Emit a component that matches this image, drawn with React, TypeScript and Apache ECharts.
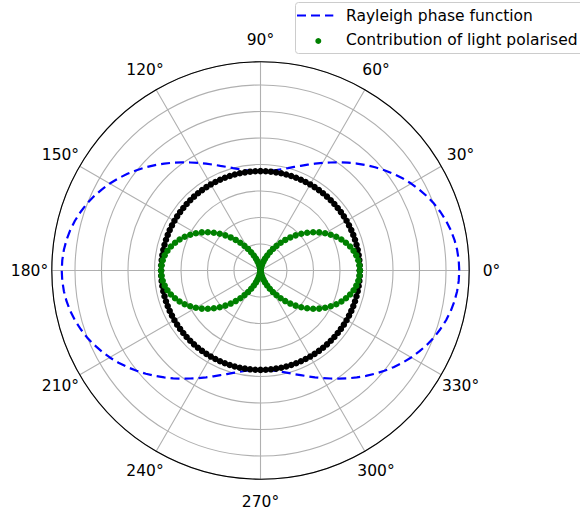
import { useEffect, useRef } from "react";
import * as echarts from "echarts";

// Sample angles (degrees) of the plotted points
const ANGLES = [
  0, 3, 6, 9, 12, 15, 18, 21, 24, 27, 30, 33, 36, 39, 42, 45, 48, 51, 54, 57,
  60, 63, 66, 69, 72, 75, 78, 81, 84, 87, 90, 93, 96, 99, 102, 105, 108, 111, 114, 117,
  120, 123, 126, 129, 132, 135, 138, 141, 144, 147, 150, 153, 156, 159, 162, 165, 168, 171, 174, 177,
  180, 183, 186, 189, 192, 195, 198, 201, 204, 207, 210, 213, 216, 219, 222, 225, 228, 231, 234, 237,
  240, 243, 246, 249, 252, 255, 258, 261, 264, 267, 270, 273, 276, 279, 282, 285, 288, 291, 294, 297,
  300, 303, 306, 309, 312, 315, 318, 321, 324, 327, 330, 333, 336, 339, 342, 345, 348, 351, 354, 357,
  360,
];

// Rayleigh phase function (blue dashed)
const BLUE_R = [
  1.5, 1.498, 1.492, 1.482, 1.468, 1.45, 1.428, 1.404, 1.376, 1.345,
  1.313, 1.278, 1.241, 1.203, 1.164, 1.125, 1.086, 1.047, 1.009, 0.972,
  0.938, 0.905, 0.874, 0.846, 0.822, 0.8, 0.782, 0.768, 0.758, 0.752,
  0.75, 0.752, 0.758, 0.768, 0.782, 0.8, 0.822, 0.846, 0.874, 0.905,
  0.938, 0.972, 1.009, 1.047, 1.086, 1.125, 1.164, 1.203, 1.241, 1.278,
  1.313, 1.345, 1.376, 1.404, 1.428, 1.45, 1.468, 1.482, 1.492, 1.498,
  1.5, 1.498, 1.492, 1.482, 1.468, 1.45, 1.428, 1.404, 1.376, 1.345,
  1.313, 1.278, 1.241, 1.203, 1.164, 1.125, 1.086, 1.047, 1.009, 0.972,
  0.938, 0.905, 0.874, 0.846, 0.822, 0.8, 0.782, 0.768, 0.758, 0.752,
  0.75, 0.752, 0.758, 0.768, 0.782, 0.8, 0.822, 0.846, 0.874, 0.905,
  0.938, 0.972, 1.009, 1.047, 1.086, 1.125, 1.164, 1.203, 1.241, 1.278,
  1.313, 1.345, 1.376, 1.404, 1.428, 1.45, 1.468, 1.482, 1.492, 1.498,
  1.5,
];

// Contribution of light polarised (green dots)
const GREEN_R = [
  0.75, 0.748, 0.742, 0.732, 0.718, 0.7, 0.678, 0.654, 0.626, 0.595,
  0.563, 0.528, 0.491, 0.453, 0.414, 0.375, 0.336, 0.297, 0.259, 0.222,
  0.188, 0.155, 0.124, 0.096, 0.072, 0.05, 0.032, 0.018, 0.008, 0.002,
  0, 0.002, 0.008, 0.018, 0.032, 0.05, 0.072, 0.096, 0.124, 0.155,
  0.188, 0.222, 0.259, 0.297, 0.336, 0.375, 0.414, 0.453, 0.491, 0.528,
  0.563, 0.595, 0.626, 0.654, 0.678, 0.7, 0.718, 0.732, 0.742, 0.748,
  0.75, 0.748, 0.742, 0.732, 0.718, 0.7, 0.678, 0.654, 0.626, 0.595,
  0.563, 0.528, 0.491, 0.453, 0.414, 0.375, 0.336, 0.297, 0.259, 0.222,
  0.188, 0.155, 0.124, 0.096, 0.072, 0.05, 0.032, 0.018, 0.008, 0.002,
  0, 0.002, 0.008, 0.018, 0.032, 0.05, 0.072, 0.096, 0.124, 0.155,
  0.188, 0.222, 0.259, 0.297, 0.336, 0.375, 0.414, 0.453, 0.491, 0.528,
  0.563, 0.595, 0.626, 0.654, 0.678, 0.7, 0.718, 0.732, 0.742, 0.748,
  0.75,
];

// Other (unpolarised) contribution (black dots)
const BLACK_R = [
  0.75, 0.75, 0.75, 0.75, 0.75, 0.75, 0.75, 0.75, 0.75, 0.75,
  0.75, 0.75, 0.75, 0.75, 0.75, 0.75, 0.75, 0.75, 0.75, 0.75,
  0.75, 0.75, 0.75, 0.75, 0.75, 0.75, 0.75, 0.75, 0.75, 0.75,
  0.75, 0.75, 0.75, 0.75, 0.75, 0.75, 0.75, 0.75, 0.75, 0.75,
  0.75, 0.75, 0.75, 0.75, 0.75, 0.75, 0.75, 0.75, 0.75, 0.75,
  0.75, 0.75, 0.75, 0.75, 0.75, 0.75, 0.75, 0.75, 0.75, 0.75,
  0.75, 0.75, 0.75, 0.75, 0.75, 0.75, 0.75, 0.75, 0.75, 0.75,
  0.75, 0.75, 0.75, 0.75, 0.75, 0.75, 0.75, 0.75, 0.75, 0.75,
  0.75, 0.75, 0.75, 0.75, 0.75, 0.75, 0.75, 0.75, 0.75, 0.75,
  0.75, 0.75, 0.75, 0.75, 0.75, 0.75, 0.75, 0.75, 0.75, 0.75,
  0.75, 0.75, 0.75, 0.75, 0.75, 0.75, 0.75, 0.75, 0.75, 0.75,
  0.75, 0.75, 0.75, 0.75, 0.75, 0.75, 0.75, 0.75, 0.75, 0.75,
  0.75,
];

const ANGLE_TICKS = [0, 30, 60, 90, 120, 150, 180, 210, 240, 270, 300, 330];
const RADIUS_MIN = 0;
const RADIUS_MAX = 1.575;
const RADIUS_STEP = 0.2;
const LEGEND_LABELS = ["Rayleigh phase function", "Contribution of light polarised"];

// layout
const CX = 260.5;
const CY = 270.5;
const R = 208.7;
const LABEL_DIST = 231;
const FONT = 15.5;
const MARGIN = -20;
const FAMILY = "DejaVu Sans";
const DASH = [9, 5];

function buildRich() {
  const rich: Record<string, any> = {};
  const A = R + MARGIN;
  const G = LABEL_DIST - A;
  ANGLE_TICKS.forEach((a) => {
    const rad = (a * Math.PI) / 180;
    const c = Math.cos(rad);
    const s = Math.sin(rad);
    const text = `${a}°`;
    const w = (text.length - 1) * 0.636 * FONT + 0.5 * FONT;
    let pl = 0, pr = 0;
    let lh = FONT;
    const px = A * c;
    const py = -A * s;
    if (Math.abs(px) / R >= 0.3) {
      const v = Math.max(0, G * Math.abs(c) - w / 2);
      if (px > 0) pl = v; else pr = v;
    }
    if (Math.abs(py) / R >= 0.3) {
      lh = Math.max(FONT, 2 * G * Math.abs(s));
    }
    rich["a" + a] = {
      fontSize: FONT,
      fontFamily: FAMILY,
      color: "#000",
      lineHeight: lh,
      padding: [0, pr, 0, pl],
    };
  });
  return rich;
}

export default function App() {
  const ref = useRef<HTMLDivElement>(null);
  useEffect(() => {
    if (!ref.current) return;
    const chart = echarts.init(ref.current, undefined, { renderer: "svg" });
    const grey = "#b0b0b0";
    chart.setOption({
      animation: false,
      backgroundColor: "#ffffff",
      polar: { center: [CX, CY], radius: R },
      angleAxis: {
        type: "value",
        min: 0,
        max: 360,
        interval: 30,
        startAngle: 0,
        clockwise: false,
        z: 1,
        axisLine: { show: true, lineStyle: { color: "#000", width: 1.1 } },
        axisTick: { show: false },
        splitLine: { show: true, lineStyle: { color: grey, width: 1.1 } },
        axisLabel: {
          show: true,
          margin: MARGIN,
          fontSize: FONT,
          fontFamily: FAMILY,
          color: "#000",
          formatter: (v: number) => (v >= 360 ? "" : `{a${v}|${v}°}`),
          rich: buildRich(),
        },
      },
      radiusAxis: {
        type: "value",
        min: RADIUS_MIN,
        max: RADIUS_MAX,
        interval: RADIUS_STEP,
        z: 0,
        axisLine: { show: false },
        axisTick: { show: false },
        axisLabel: { show: false },
        splitLine: { show: true, lineStyle: { color: grey, width: 1.1 } },
      },
      series: [
        {
          name: LEGEND_LABELS[0],
          type: "line",
          coordinateSystem: "polar",
          data: ANGLES.map((a, i) => [BLUE_R[i], a]),
          symbol: "none",
          showSymbol: false,
          lineStyle: { color: "#0000ff", width: 2.2, type: DASH },
          z: 3,
        },
        {
          name: "black",
          type: "scatter",
          coordinateSystem: "polar",
          data: ANGLES.map((a, i) => [BLACK_R[i], a]),
          symbol: "circle",
          symbolSize: 6.5,
          itemStyle: { color: "#000000", opacity: 1 },
          z: 4,
        },
        {
          name: LEGEND_LABELS[1],
          type: "scatter",
          coordinateSystem: "polar",
          data: ANGLES.map((a, i) => [GREEN_R[i], a]),
          symbol: "circle",
          symbolSize: 6.5,
          itemStyle: { color: "#008000", opacity: 1 },
          z: 5,
        },
      ],
      graphic: [
        {
          type: "rect",
          z: 20,
          shape: { x: 295.5, y: 2.5, width: 300, height: 51, r: 3 },
          style: { fill: "rgba(255,255,255,0.8)", stroke: "#cccccc", lineWidth: 1 },
        },
        {
          type: "line",
          z: 21,
          shape: { x1: 297, y1: 15.5, x2: 333.3, y2: 15.5 },
          style: { stroke: "#0000ff", lineWidth: 2.2, lineDash: DASH },
        },
        {
          type: "circle",
          z: 21,
          shape: { cx: 318.3, cy: 41, r: 3 },
          style: { fill: "#008000" },
        },
        {
          type: "text",
          z: 21,
          x: 346,
          y: 16,
          style: { text: LEGEND_LABELS[0], fontSize: FONT, fontFamily: FAMILY, fill: "#000", verticalAlign: "middle" },
        },
        {
          type: "text",
          z: 21,
          x: 346,
          y: 40,
          style: { text: LEGEND_LABELS[1], fontSize: FONT, fontFamily: FAMILY, fill: "#000", verticalAlign: "middle" },
        },
      ],
    });
    return () => chart.dispose();
  }, []);
  return (
    <div
      ref={ref}
      style={{ position: "fixed", left: 0, top: 0, width: 580, height: 510, background: "#fff" }}
    />
  );
}
